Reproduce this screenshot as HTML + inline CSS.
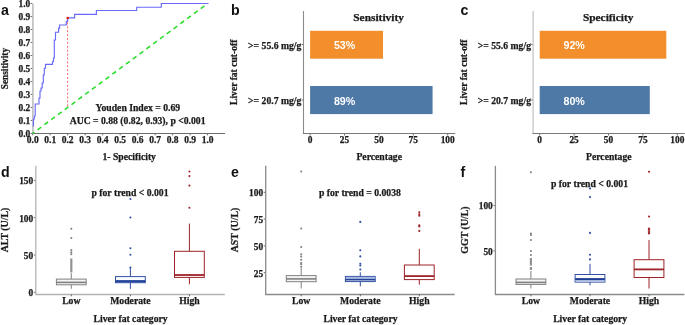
<!DOCTYPE html>
<html><head><meta charset="utf-8"><style>
html,body{margin:0;padding:0;background:#fff;}
svg{display:block;filter:blur(0.3px);}
</style></head><body>
<svg width="685" height="325" viewBox="0 0 685 325">
<rect width="685" height="325" fill="#fff"/>
<text x="1.0" y="14.8" font-size="14.2" text-anchor="start" font-weight="bold" font-family='"Liberation Sans", sans-serif' fill="#111" >a</text>
<line x1="32.9" y1="3.4" x2="32.9" y2="133.5" stroke="#b4b4b4" stroke-width="1.4" />
<line x1="32.2" y1="133.5" x2="225.0" y2="133.5" stroke="#6e6e6e" stroke-width="1.1" />
<line x1="30.6" y1="133.4" x2="32.2" y2="133.4" stroke="#444" stroke-width="0.8" />
<text x="30.2" y="137.0" font-size="9.4" text-anchor="end" font-weight="bold" font-family='"Liberation Serif", serif' fill="#1a1a1a" stroke="#1a1a1a" stroke-width="0.25" >0.0</text>
<line x1="32.7" y1="134" x2="32.7" y2="135.3" stroke="#444" stroke-width="0.8" />
<text x="32.7" y="142.8" font-size="9.5" text-anchor="middle" font-weight="bold" font-family='"Liberation Serif", serif' fill="#1a1a1a" stroke="#1a1a1a" stroke-width="0.25" >0.0</text>
<line x1="30.6" y1="120.41" x2="32.2" y2="120.41" stroke="#444" stroke-width="0.8" />
<text x="30.2" y="124.00999999999999" font-size="9.4" text-anchor="end" font-weight="bold" font-family='"Liberation Serif", serif' fill="#1a1a1a" stroke="#1a1a1a" stroke-width="0.25" >0.1</text>
<line x1="50.190000000000005" y1="134" x2="50.190000000000005" y2="135.3" stroke="#444" stroke-width="0.8" />
<text x="50.190000000000005" y="142.8" font-size="9.5" text-anchor="middle" font-weight="bold" font-family='"Liberation Serif", serif' fill="#1a1a1a" stroke="#1a1a1a" stroke-width="0.25" >0.1</text>
<line x1="30.6" y1="107.42" x2="32.2" y2="107.42" stroke="#444" stroke-width="0.8" />
<text x="30.2" y="111.02" font-size="9.4" text-anchor="end" font-weight="bold" font-family='"Liberation Serif", serif' fill="#1a1a1a" stroke="#1a1a1a" stroke-width="0.25" >0.2</text>
<line x1="67.68" y1="134" x2="67.68" y2="135.3" stroke="#444" stroke-width="0.8" />
<text x="67.68" y="142.8" font-size="9.5" text-anchor="middle" font-weight="bold" font-family='"Liberation Serif", serif' fill="#1a1a1a" stroke="#1a1a1a" stroke-width="0.25" >0.2</text>
<line x1="30.6" y1="94.43" x2="32.2" y2="94.43" stroke="#444" stroke-width="0.8" />
<text x="30.2" y="98.03" font-size="9.4" text-anchor="end" font-weight="bold" font-family='"Liberation Serif", serif' fill="#1a1a1a" stroke="#1a1a1a" stroke-width="0.25" >0.3</text>
<line x1="85.17" y1="134" x2="85.17" y2="135.3" stroke="#444" stroke-width="0.8" />
<text x="85.17" y="142.8" font-size="9.5" text-anchor="middle" font-weight="bold" font-family='"Liberation Serif", serif' fill="#1a1a1a" stroke="#1a1a1a" stroke-width="0.25" >0.3</text>
<line x1="30.6" y1="81.44" x2="32.2" y2="81.44" stroke="#444" stroke-width="0.8" />
<text x="30.2" y="85.03999999999999" font-size="9.4" text-anchor="end" font-weight="bold" font-family='"Liberation Serif", serif' fill="#1a1a1a" stroke="#1a1a1a" stroke-width="0.25" >0.4</text>
<line x1="102.66000000000001" y1="134" x2="102.66000000000001" y2="135.3" stroke="#444" stroke-width="0.8" />
<text x="102.66000000000001" y="142.8" font-size="9.5" text-anchor="middle" font-weight="bold" font-family='"Liberation Serif", serif' fill="#1a1a1a" stroke="#1a1a1a" stroke-width="0.25" >0.4</text>
<line x1="30.6" y1="68.45" x2="32.2" y2="68.45" stroke="#444" stroke-width="0.8" />
<text x="30.2" y="72.05" font-size="9.4" text-anchor="end" font-weight="bold" font-family='"Liberation Serif", serif' fill="#1a1a1a" stroke="#1a1a1a" stroke-width="0.25" >0.5</text>
<line x1="120.15" y1="134" x2="120.15" y2="135.3" stroke="#444" stroke-width="0.8" />
<text x="120.15" y="142.8" font-size="9.5" text-anchor="middle" font-weight="bold" font-family='"Liberation Serif", serif' fill="#1a1a1a" stroke="#1a1a1a" stroke-width="0.25" >0.5</text>
<line x1="30.6" y1="55.46000000000001" x2="32.2" y2="55.46000000000001" stroke="#444" stroke-width="0.8" />
<text x="30.2" y="59.06000000000001" font-size="9.4" text-anchor="end" font-weight="bold" font-family='"Liberation Serif", serif' fill="#1a1a1a" stroke="#1a1a1a" stroke-width="0.25" >0.6</text>
<line x1="137.64" y1="134" x2="137.64" y2="135.3" stroke="#444" stroke-width="0.8" />
<text x="137.64" y="142.8" font-size="9.5" text-anchor="middle" font-weight="bold" font-family='"Liberation Serif", serif' fill="#1a1a1a" stroke="#1a1a1a" stroke-width="0.25" >0.6</text>
<line x1="30.6" y1="42.47000000000001" x2="32.2" y2="42.47000000000001" stroke="#444" stroke-width="0.8" />
<text x="30.2" y="46.070000000000014" font-size="9.4" text-anchor="end" font-weight="bold" font-family='"Liberation Serif", serif' fill="#1a1a1a" stroke="#1a1a1a" stroke-width="0.25" >0.7</text>
<line x1="155.13" y1="134" x2="155.13" y2="135.3" stroke="#444" stroke-width="0.8" />
<text x="155.13" y="142.8" font-size="9.5" text-anchor="middle" font-weight="bold" font-family='"Liberation Serif", serif' fill="#1a1a1a" stroke="#1a1a1a" stroke-width="0.25" >0.7</text>
<line x1="30.6" y1="29.47999999999999" x2="32.2" y2="29.47999999999999" stroke="#444" stroke-width="0.8" />
<text x="30.2" y="33.07999999999999" font-size="9.4" text-anchor="end" font-weight="bold" font-family='"Liberation Serif", serif' fill="#1a1a1a" stroke="#1a1a1a" stroke-width="0.25" >0.8</text>
<line x1="172.62" y1="134" x2="172.62" y2="135.3" stroke="#444" stroke-width="0.8" />
<text x="172.62" y="142.8" font-size="9.5" text-anchor="middle" font-weight="bold" font-family='"Liberation Serif", serif' fill="#1a1a1a" stroke="#1a1a1a" stroke-width="0.25" >0.8</text>
<line x1="30.6" y1="16.489999999999995" x2="32.2" y2="16.489999999999995" stroke="#444" stroke-width="0.8" />
<text x="30.2" y="20.089999999999996" font-size="9.4" text-anchor="end" font-weight="bold" font-family='"Liberation Serif", serif' fill="#1a1a1a" stroke="#1a1a1a" stroke-width="0.25" >0.9</text>
<line x1="190.11" y1="134" x2="190.11" y2="135.3" stroke="#444" stroke-width="0.8" />
<text x="190.11" y="142.8" font-size="9.5" text-anchor="middle" font-weight="bold" font-family='"Liberation Serif", serif' fill="#1a1a1a" stroke="#1a1a1a" stroke-width="0.25" >0.9</text>
<line x1="30.6" y1="3.5" x2="32.2" y2="3.5" stroke="#444" stroke-width="0.8" />
<text x="30.2" y="7.1" font-size="9.4" text-anchor="end" font-weight="bold" font-family='"Liberation Serif", serif' fill="#1a1a1a" stroke="#1a1a1a" stroke-width="0.25" >1.0</text>
<line x1="207.60000000000002" y1="134" x2="207.60000000000002" y2="135.3" stroke="#444" stroke-width="0.8" />
<text x="207.60000000000002" y="142.8" font-size="9.5" text-anchor="middle" font-weight="bold" font-family='"Liberation Serif", serif' fill="#1a1a1a" stroke="#1a1a1a" stroke-width="0.25" >1.0</text>
<line x1="32.7" y1="133.4" x2="207.60000000000002" y2="3.5" stroke="#2edc2e" stroke-width="1.6" stroke-dasharray="4.6 3.87" stroke-dashoffset="2.4"/>
<line x1="67.6" y1="18.5" x2="67.6" y2="107" stroke="#ff6464" stroke-width="1" stroke-dasharray="2 1.9"/>
<path d="M33.5,126.6 V119 H34.3 V116 H35.2 V104 H39 V98 H40 V91 H41 V88 H42.2 V83 H43.3 V75 H44.3 V68.2 H45.5 V64.3 H52.5 V61.7 H53.5 V58 H54.3 V40 H55.5 V32.2 H58.6 V28.1 H59.6 V25 H66.3 V21.4 H67.6 V17.9 H74.6 V14.4 H96.4 V10.5 H136.7 V7.2 H161.3 V3.5 H208.5" fill="none" stroke="#6a6afa" stroke-width="1.15"/>
<rect x="66.6" y="16.9" width="2.2" height="2.2" fill="#ee1111"/>
<text x="137.9" y="111.3" font-size="9.7" text-anchor="middle" font-weight="bold" font-family='"Liberation Serif", serif' fill="#1a1a1a" stroke="#1a1a1a" stroke-width="0.25" >Youden Index = 0.69</text>
<text x="137.6" y="124.4" font-size="9.7" text-anchor="middle" font-weight="bold" font-family='"Liberation Serif", serif' fill="#1a1a1a" stroke="#1a1a1a" stroke-width="0.25" >AUC = 0.88 (0.82, 0.93), p &lt;0.001</text>
<text x="129.2" y="160.4" font-size="9.7" text-anchor="middle" font-weight="bold" font-family='"Liberation Serif", serif' fill="#1a1a1a" stroke="#1a1a1a" stroke-width="0.25" >1- Specificity</text>
<text transform="translate(8.2,68.6) rotate(-90)" font-size="9.3" text-anchor="middle" font-weight="bold" font-family='"Liberation Serif", serif' fill="#1a1a1a" stroke="#1a1a1a" stroke-width="0.25">Sensitivity</text>
<text x="231.0" y="14.9" font-size="14.2" text-anchor="start" font-weight="bold" font-family='"Liberation Sans", sans-serif' fill="#111" >b</text>
<line x1="303.5" y1="11.1" x2="303.5" y2="133.5" stroke="#8a8a8a" stroke-width="1.1" />
<line x1="302.9" y1="133.5" x2="455.2" y2="133.5" stroke="#7a7a7a" stroke-width="1.1" />
<line x1="310.1" y1="134" x2="310.1" y2="135.5" stroke="#444" stroke-width="0.8" />
<text x="310.1" y="142.8" font-size="9.4" text-anchor="middle" font-weight="bold" font-family='"Liberation Serif", serif' fill="#1a1a1a" stroke="#1a1a1a" stroke-width="0.25" >0</text>
<line x1="344.5" y1="134" x2="344.5" y2="135.5" stroke="#444" stroke-width="0.8" />
<text x="344.5" y="142.8" font-size="9.4" text-anchor="middle" font-weight="bold" font-family='"Liberation Serif", serif' fill="#1a1a1a" stroke="#1a1a1a" stroke-width="0.25" >25</text>
<line x1="378.90000000000003" y1="134" x2="378.90000000000003" y2="135.5" stroke="#444" stroke-width="0.8" />
<text x="378.90000000000003" y="142.8" font-size="9.4" text-anchor="middle" font-weight="bold" font-family='"Liberation Serif", serif' fill="#1a1a1a" stroke="#1a1a1a" stroke-width="0.25" >50</text>
<line x1="413.3" y1="134" x2="413.3" y2="135.5" stroke="#444" stroke-width="0.8" />
<text x="413.3" y="142.8" font-size="9.4" text-anchor="middle" font-weight="bold" font-family='"Liberation Serif", serif' fill="#1a1a1a" stroke="#1a1a1a" stroke-width="0.25" >75</text>
<line x1="447.70000000000005" y1="134" x2="447.70000000000005" y2="135.5" stroke="#444" stroke-width="0.8" />
<text x="447.70000000000005" y="142.8" font-size="9.4" text-anchor="middle" font-weight="bold" font-family='"Liberation Serif", serif' fill="#1a1a1a" stroke="#1a1a1a" stroke-width="0.25" >100</text>
<line x1="301.6" y1="44.5" x2="303.0" y2="44.5" stroke="#444" stroke-width="0.8" />
<line x1="301.6" y1="100.0" x2="303.0" y2="100.0" stroke="#444" stroke-width="0.8" />
<rect x="310.1" y="30.8" width="72.928" height="27.9" fill="#f28e2b" />
<rect x="310.1" y="86.0" width="122.46399999999998" height="28.1" fill="#4e79a7" />
<text x="344.6" y="49.0" font-size="10.7" text-anchor="middle" font-weight="bold" font-family='"Liberation Sans", sans-serif' fill="#fff" >53%</text>
<text x="344.6" y="104.6" font-size="10.7" text-anchor="middle" font-weight="bold" font-family='"Liberation Sans", sans-serif' fill="#fff" >89%</text>
<text x="378.6" y="20.8" font-size="11.4" text-anchor="middle" font-weight="bold" font-family='"Liberation Serif", serif' fill="#1a1a1a" stroke="#1a1a1a" stroke-width="0.25" >Sensitivity</text>
<text x="301.4" y="48.9" font-size="9.7" text-anchor="end" font-weight="bold" font-family='"Liberation Serif", serif' fill="#1a1a1a" stroke="#1a1a1a" stroke-width="0.25" >&gt;= 55.6 mg/g</text>
<text x="301.4" y="104.2" font-size="9.7" text-anchor="end" font-weight="bold" font-family='"Liberation Serif", serif' fill="#1a1a1a" stroke="#1a1a1a" stroke-width="0.25" >&gt;= 20.7 mg/g</text>
<text transform="translate(237.2,72.3) rotate(-90)" font-size="9.6" text-anchor="middle" font-weight="bold" font-family='"Liberation Serif", serif' fill="#1a1a1a" stroke="#1a1a1a" stroke-width="0.25">Liver fat cut-off</text>
<text x="379.2" y="160.0" font-size="9.7" text-anchor="middle" font-weight="bold" font-family='"Liberation Serif", serif' fill="#1a1a1a" stroke="#1a1a1a" stroke-width="0.25" >Percentage</text>
<text x="460.6" y="14.9" font-size="14.2" text-anchor="start" font-weight="bold" font-family='"Liberation Sans", sans-serif' fill="#111" >c</text>
<line x1="533.1" y1="11.1" x2="533.1" y2="133.5" stroke="#bbbbbb" stroke-width="1.1" />
<line x1="532.5" y1="133.5" x2="684.8" y2="133.5" stroke="#7a7a7a" stroke-width="1.1" />
<line x1="539.7" y1="134" x2="539.7" y2="135.5" stroke="#444" stroke-width="0.8" />
<text x="539.7" y="142.8" font-size="9.4" text-anchor="middle" font-weight="bold" font-family='"Liberation Serif", serif' fill="#1a1a1a" stroke="#1a1a1a" stroke-width="0.25" >0</text>
<line x1="574.1" y1="134" x2="574.1" y2="135.5" stroke="#444" stroke-width="0.8" />
<text x="574.1" y="142.8" font-size="9.4" text-anchor="middle" font-weight="bold" font-family='"Liberation Serif", serif' fill="#1a1a1a" stroke="#1a1a1a" stroke-width="0.25" >25</text>
<line x1="608.5" y1="134" x2="608.5" y2="135.5" stroke="#444" stroke-width="0.8" />
<text x="608.5" y="142.8" font-size="9.4" text-anchor="middle" font-weight="bold" font-family='"Liberation Serif", serif' fill="#1a1a1a" stroke="#1a1a1a" stroke-width="0.25" >50</text>
<line x1="642.9000000000001" y1="134" x2="642.9000000000001" y2="135.5" stroke="#444" stroke-width="0.8" />
<text x="642.9000000000001" y="142.8" font-size="9.4" text-anchor="middle" font-weight="bold" font-family='"Liberation Serif", serif' fill="#1a1a1a" stroke="#1a1a1a" stroke-width="0.25" >75</text>
<line x1="677.3000000000001" y1="134" x2="677.3000000000001" y2="135.5" stroke="#444" stroke-width="0.8" />
<text x="677.3000000000001" y="142.8" font-size="9.4" text-anchor="middle" font-weight="bold" font-family='"Liberation Serif", serif' fill="#1a1a1a" stroke="#1a1a1a" stroke-width="0.25" >100</text>
<line x1="531.2" y1="44.5" x2="532.6" y2="44.5" stroke="#444" stroke-width="0.8" />
<line x1="531.2" y1="100.0" x2="532.6" y2="100.0" stroke="#444" stroke-width="0.8" />
<rect x="539.7" y="30.8" width="126.59199999999998" height="27.9" fill="#f28e2b" />
<rect x="539.7" y="86.0" width="110.07999999999998" height="28.1" fill="#4e79a7" />
<text x="574.2" y="49.0" font-size="10.7" text-anchor="middle" font-weight="bold" font-family='"Liberation Sans", sans-serif' fill="#fff" >92%</text>
<text x="574.2" y="104.6" font-size="10.7" text-anchor="middle" font-weight="bold" font-family='"Liberation Sans", sans-serif' fill="#fff" >80%</text>
<text x="608.2" y="20.8" font-size="11.4" text-anchor="middle" font-weight="bold" font-family='"Liberation Serif", serif' fill="#1a1a1a" stroke="#1a1a1a" stroke-width="0.25" >Specificity</text>
<text x="531.0" y="48.9" font-size="9.7" text-anchor="end" font-weight="bold" font-family='"Liberation Serif", serif' fill="#1a1a1a" stroke="#1a1a1a" stroke-width="0.25" >&gt;= 55.6 mg/g</text>
<text x="531.0" y="104.2" font-size="9.7" text-anchor="end" font-weight="bold" font-family='"Liberation Serif", serif' fill="#1a1a1a" stroke="#1a1a1a" stroke-width="0.25" >&gt;= 20.7 mg/g</text>
<text transform="translate(466.79999999999995,72.3) rotate(-90)" font-size="9.6" text-anchor="middle" font-weight="bold" font-family='"Liberation Serif", serif' fill="#1a1a1a" stroke="#1a1a1a" stroke-width="0.25">Liver fat cut-off</text>
<text x="608.8" y="160.0" font-size="9.7" text-anchor="middle" font-weight="bold" font-family='"Liberation Serif", serif' fill="#1a1a1a" stroke="#1a1a1a" stroke-width="0.25" >Percentage</text>
<text x="1.0" y="177.0" font-size="14.2" text-anchor="start" font-weight="bold" font-family='"Liberation Sans", sans-serif' fill="#111" >d</text>
<line x1="35.8" y1="165.8" x2="35.8" y2="294.5" stroke="#b4b4b4" stroke-width="1.3" />
<line x1="35.3" y1="294.5" x2="224.8" y2="294.5" stroke="#b4b4b4" stroke-width="1.3" />
<line x1="33.8" y1="292.3" x2="35.2" y2="292.3" stroke="#444" stroke-width="0.8" />
<text x="33.2" y="296.2" font-size="9.4" text-anchor="end" font-weight="bold" font-family='"Liberation Serif", serif' fill="#1a1a1a" stroke="#1a1a1a" stroke-width="0.25" >0</text>
<line x1="33.8" y1="255.0" x2="35.2" y2="255.0" stroke="#444" stroke-width="0.8" />
<text x="33.2" y="258.9" font-size="9.4" text-anchor="end" font-weight="bold" font-family='"Liberation Serif", serif' fill="#1a1a1a" stroke="#1a1a1a" stroke-width="0.25" >50</text>
<line x1="33.8" y1="217.70000000000002" x2="35.2" y2="217.70000000000002" stroke="#444" stroke-width="0.8" />
<text x="33.2" y="221.60000000000002" font-size="9.4" text-anchor="end" font-weight="bold" font-family='"Liberation Serif", serif' fill="#1a1a1a" stroke="#1a1a1a" stroke-width="0.25" >100</text>
<line x1="33.8" y1="180.4" x2="35.2" y2="180.4" stroke="#444" stroke-width="0.8" />
<text x="33.2" y="184.3" font-size="9.4" text-anchor="end" font-weight="bold" font-family='"Liberation Serif", serif' fill="#1a1a1a" stroke="#1a1a1a" stroke-width="0.25" >150</text>
<line x1="71.3" y1="294.5" x2="71.3" y2="296.3" stroke="#444" stroke-width="0.8" />
<text x="71.3" y="303.9" font-size="9.7" text-anchor="middle" font-weight="bold" font-family='"Liberation Serif", serif' fill="#1a1a1a" stroke="#1a1a1a" stroke-width="0.25" >Low</text>
<line x1="130.4" y1="294.5" x2="130.4" y2="296.3" stroke="#444" stroke-width="0.8" />
<text x="130.4" y="303.9" font-size="9.7" text-anchor="middle" font-weight="bold" font-family='"Liberation Serif", serif' fill="#1a1a1a" stroke="#1a1a1a" stroke-width="0.25" >Moderate</text>
<line x1="189.4" y1="294.5" x2="189.4" y2="296.3" stroke="#444" stroke-width="0.8" />
<text x="189.4" y="303.9" font-size="9.7" text-anchor="middle" font-weight="bold" font-family='"Liberation Serif", serif' fill="#1a1a1a" stroke="#1a1a1a" stroke-width="0.25" >High</text>
<text x="130.6" y="322.0" font-size="9.7" text-anchor="middle" font-weight="bold" font-family='"Liberation Serif", serif' fill="#1a1a1a" stroke="#1a1a1a" stroke-width="0.25" >Liver fat category</text>
<text x="130.0" y="195.5" font-size="9.7" text-anchor="middle" font-weight="bold" font-family='"Liberation Serif", serif' fill="#1a1a1a" stroke="#1a1a1a" stroke-width="0.25" >p for trend &lt; 0.001</text>
<text transform="translate(8.4,230.0) rotate(-90)" font-size="9.9" text-anchor="middle" font-weight="bold" font-family='"Liberation Serif", serif' fill="#1a1a1a" stroke="#1a1a1a" stroke-width="0.25">ALT (U/L)</text>
<line x1="71.3" y1="273.2" x2="71.3" y2="279.1" stroke="#808080" stroke-width="1" />
<line x1="71.3" y1="284.8" x2="71.3" y2="288.8" stroke="#808080" stroke-width="1" />
<rect x="56.4" y="279.1" width="29.8" height="5.699999999999989" fill="#f4f4f4" stroke="#808080" stroke-width="1"/>
<line x1="56.4" y1="282.4" x2="86.2" y2="282.4" stroke="#808080" stroke-width="1.6" />
<circle cx="71.3" cy="228.7" r="1.05" fill="#808080"/>
<circle cx="71.3" cy="238.0" r="1.05" fill="#808080"/>
<circle cx="71.3" cy="250.0" r="1.05" fill="#808080"/>
<circle cx="71.3" cy="252.4" r="1.05" fill="#808080"/>
<circle cx="71.3" cy="254.3" r="1.05" fill="#808080"/>
<rect x="70.2" y="258.5" width="2.2" height="14.0" fill="#808080" opacity="0.85"/>
<line x1="130.4" y1="267.9" x2="130.4" y2="276.6" stroke="#2f4fa3" stroke-width="1" />
<line x1="130.4" y1="282.7" x2="130.4" y2="288.9" stroke="#2f4fa3" stroke-width="1" />
<rect x="115.5" y="276.6" width="29.8" height="6.099999999999966" fill="#fff" stroke="#2f4fa3" stroke-width="1"/>
<line x1="115.5" y1="281.2" x2="145.3" y2="281.2" stroke="#24449a" stroke-width="2.2" />
<circle cx="130.4" cy="199.0" r="1.05" fill="#2f4fa3"/>
<circle cx="130.4" cy="217.5" r="1.05" fill="#2f4fa3"/>
<circle cx="130.4" cy="248.3" r="1.05" fill="#2f4fa3"/>
<circle cx="130.4" cy="254.7" r="1.05" fill="#2f4fa3"/>
<circle cx="130.4" cy="267.6" r="1.05" fill="#2f4fa3"/>
<line x1="189.4" y1="223.6" x2="189.4" y2="251.3" stroke="#9e2227" stroke-width="1" />
<line x1="189.4" y1="277.4" x2="189.4" y2="284.3" stroke="#9e2227" stroke-width="1" />
<rect x="174.5" y="251.3" width="29.8" height="26.099999999999966" fill="#fff" stroke="#9e2227" stroke-width="1"/>
<line x1="174.5" y1="275.0" x2="204.3" y2="275.0" stroke="#9e2227" stroke-width="1.8" />
<circle cx="189.4" cy="171.5" r="1.05" fill="#9e2227"/>
<circle cx="189.4" cy="176.1" r="1.05" fill="#9e2227"/>
<circle cx="189.4" cy="185.6" r="1.05" fill="#9e2227"/>
<circle cx="189.4" cy="207.8" r="1.05" fill="#9e2227"/>
<text x="230.9" y="177.0" font-size="14.2" text-anchor="start" font-weight="bold" font-family='"Liberation Sans", sans-serif' fill="#111" >e</text>
<line x1="265.7" y1="165.8" x2="265.7" y2="294.5" stroke="#8a8a8a" stroke-width="1.3" />
<line x1="265.2" y1="294.5" x2="454.70000000000005" y2="294.5" stroke="#8a8a8a" stroke-width="1.3" />
<line x1="263.7" y1="272.7" x2="265.1" y2="272.7" stroke="#444" stroke-width="0.8" />
<text x="263.1" y="276.59999999999997" font-size="9.4" text-anchor="end" font-weight="bold" font-family='"Liberation Serif", serif' fill="#1a1a1a" stroke="#1a1a1a" stroke-width="0.25" >25</text>
<line x1="263.7" y1="245.9" x2="265.1" y2="245.9" stroke="#444" stroke-width="0.8" />
<text x="263.1" y="249.8" font-size="9.4" text-anchor="end" font-weight="bold" font-family='"Liberation Serif", serif' fill="#1a1a1a" stroke="#1a1a1a" stroke-width="0.25" >50</text>
<line x1="263.7" y1="219.1" x2="265.1" y2="219.1" stroke="#444" stroke-width="0.8" />
<text x="263.1" y="223.0" font-size="9.4" text-anchor="end" font-weight="bold" font-family='"Liberation Serif", serif' fill="#1a1a1a" stroke="#1a1a1a" stroke-width="0.25" >75</text>
<line x1="263.7" y1="192.3" x2="265.1" y2="192.3" stroke="#444" stroke-width="0.8" />
<text x="263.1" y="196.20000000000002" font-size="9.4" text-anchor="end" font-weight="bold" font-family='"Liberation Serif", serif' fill="#1a1a1a" stroke="#1a1a1a" stroke-width="0.25" >100</text>
<line x1="301.2" y1="294.5" x2="301.2" y2="296.3" stroke="#444" stroke-width="0.8" />
<text x="301.2" y="303.9" font-size="9.7" text-anchor="middle" font-weight="bold" font-family='"Liberation Serif", serif' fill="#1a1a1a" stroke="#1a1a1a" stroke-width="0.25" >Low</text>
<line x1="360.3" y1="294.5" x2="360.3" y2="296.3" stroke="#444" stroke-width="0.8" />
<text x="360.3" y="303.9" font-size="9.7" text-anchor="middle" font-weight="bold" font-family='"Liberation Serif", serif' fill="#1a1a1a" stroke="#1a1a1a" stroke-width="0.25" >Moderate</text>
<line x1="419.3" y1="294.5" x2="419.3" y2="296.3" stroke="#444" stroke-width="0.8" />
<text x="419.3" y="303.9" font-size="9.7" text-anchor="middle" font-weight="bold" font-family='"Liberation Serif", serif' fill="#1a1a1a" stroke="#1a1a1a" stroke-width="0.25" >High</text>
<text x="360.5" y="322.0" font-size="9.7" text-anchor="middle" font-weight="bold" font-family='"Liberation Serif", serif' fill="#1a1a1a" stroke="#1a1a1a" stroke-width="0.25" >Liver fat category</text>
<text x="359.9" y="195.70000000000002" font-size="9.7" text-anchor="middle" font-weight="bold" font-family='"Liberation Serif", serif' fill="#1a1a1a" stroke="#1a1a1a" stroke-width="0.25" >p for trend = 0.0038</text>
<text transform="translate(238.3,230.0) rotate(-90)" font-size="9.9" text-anchor="middle" font-weight="bold" font-family='"Liberation Serif", serif' fill="#1a1a1a" stroke="#1a1a1a" stroke-width="0.25">AST (U/L)</text>
<line x1="301.2" y1="267.8" x2="301.2" y2="275.6" stroke="#808080" stroke-width="1" />
<line x1="301.2" y1="281.7" x2="301.2" y2="288.5" stroke="#808080" stroke-width="1" />
<rect x="286.3" y="275.6" width="29.8" height="6.099999999999966" fill="#f4f4f4" stroke="#808080" stroke-width="1"/>
<line x1="286.3" y1="278.9" x2="316.09999999999997" y2="278.9" stroke="#808080" stroke-width="1.6" />
<circle cx="301.2" cy="171.5" r="1.05" fill="#808080"/>
<circle cx="301.2" cy="228.5" r="1.05" fill="#808080"/>
<circle cx="301.2" cy="247.0" r="1.05" fill="#808080"/>
<circle cx="301.2" cy="254.3" r="1.05" fill="#808080"/>
<circle cx="301.2" cy="256.6" r="1.05" fill="#808080"/>
<circle cx="301.2" cy="259.7" r="1.05" fill="#808080"/>
<circle cx="301.2" cy="263.0" r="1.05" fill="#808080"/>
<circle cx="301.2" cy="264.3" r="1.05" fill="#808080"/>
<circle cx="301.2" cy="266.7" r="1.05" fill="#808080"/>
<line x1="360.3" y1="272.3" x2="360.3" y2="276.4" stroke="#2f4fa3" stroke-width="1" />
<line x1="360.3" y1="281.6" x2="360.3" y2="286.4" stroke="#2f4fa3" stroke-width="1" />
<rect x="345.40000000000003" y="276.4" width="29.8" height="5.2000000000000455" fill="#fff" stroke="#2f4fa3" stroke-width="1"/>
<rect x="345.90000000000003" y="276.9" width="28.8" height="2.8000000000000114" fill="#a9b8e0" />
<line x1="345.40000000000003" y1="279.7" x2="375.2" y2="279.7" stroke="#24449a" stroke-width="1.6" />
<circle cx="360.3" cy="221.9" r="1.05" fill="#2f4fa3"/>
<circle cx="360.3" cy="250.2" r="1.05" fill="#2f4fa3"/>
<circle cx="360.3" cy="256.4" r="1.05" fill="#2f4fa3"/>
<circle cx="360.3" cy="263.8" r="1.05" fill="#2f4fa3"/>
<circle cx="360.3" cy="265.5" r="1.05" fill="#2f4fa3"/>
<circle cx="360.3" cy="269.5" r="1.05" fill="#2f4fa3"/>
<line x1="419.3" y1="248.8" x2="419.3" y2="265.0" stroke="#9e2227" stroke-width="1" />
<line x1="419.3" y1="279.6" x2="419.3" y2="284.7" stroke="#9e2227" stroke-width="1" />
<rect x="404.40000000000003" y="265.0" width="29.8" height="14.600000000000023" fill="#fff" stroke="#9e2227" stroke-width="1"/>
<line x1="404.40000000000003" y1="276.1" x2="434.2" y2="276.1" stroke="#9e2227" stroke-width="1.8" />
<circle cx="419.3" cy="212.2" r="1.05" fill="#9e2227"/>
<circle cx="419.3" cy="214.3" r="1.05" fill="#9e2227"/>
<circle cx="419.3" cy="215.8" r="1.05" fill="#9e2227"/>
<circle cx="419.3" cy="225.4" r="1.05" fill="#9e2227"/>
<circle cx="419.3" cy="226.4" r="1.05" fill="#9e2227"/>
<circle cx="419.3" cy="230.9" r="1.05" fill="#9e2227"/>
<text x="460.6" y="177.0" font-size="14.2" text-anchor="start" font-weight="bold" font-family='"Liberation Sans", sans-serif' fill="#111" >f</text>
<line x1="495.40000000000003" y1="165.8" x2="495.40000000000003" y2="294.5" stroke="#8a8a8a" stroke-width="1.3" />
<line x1="494.90000000000003" y1="294.5" x2="684.4000000000001" y2="294.5" stroke="#8a8a8a" stroke-width="1.3" />
<line x1="493.40000000000003" y1="250.8" x2="494.8" y2="250.8" stroke="#444" stroke-width="0.8" />
<text x="492.8" y="254.70000000000002" font-size="9.4" text-anchor="end" font-weight="bold" font-family='"Liberation Serif", serif' fill="#1a1a1a" stroke="#1a1a1a" stroke-width="0.25" >50</text>
<line x1="493.40000000000003" y1="205.5" x2="494.8" y2="205.5" stroke="#444" stroke-width="0.8" />
<text x="492.8" y="209.4" font-size="9.4" text-anchor="end" font-weight="bold" font-family='"Liberation Serif", serif' fill="#1a1a1a" stroke="#1a1a1a" stroke-width="0.25" >100</text>
<line x1="530.9" y1="294.5" x2="530.9" y2="296.3" stroke="#444" stroke-width="0.8" />
<text x="530.9" y="303.9" font-size="9.7" text-anchor="middle" font-weight="bold" font-family='"Liberation Serif", serif' fill="#1a1a1a" stroke="#1a1a1a" stroke-width="0.25" >Low</text>
<line x1="590.0" y1="294.5" x2="590.0" y2="296.3" stroke="#444" stroke-width="0.8" />
<text x="590.0" y="303.9" font-size="9.7" text-anchor="middle" font-weight="bold" font-family='"Liberation Serif", serif' fill="#1a1a1a" stroke="#1a1a1a" stroke-width="0.25" >Moderate</text>
<line x1="649.0" y1="294.5" x2="649.0" y2="296.3" stroke="#444" stroke-width="0.8" />
<text x="649.0" y="303.9" font-size="9.7" text-anchor="middle" font-weight="bold" font-family='"Liberation Serif", serif' fill="#1a1a1a" stroke="#1a1a1a" stroke-width="0.25" >High</text>
<text x="590.2" y="322.0" font-size="9.7" text-anchor="middle" font-weight="bold" font-family='"Liberation Serif", serif' fill="#1a1a1a" stroke="#1a1a1a" stroke-width="0.25" >Liver fat category</text>
<text x="589.5" y="187.20000000000002" font-size="9.7" text-anchor="middle" font-weight="bold" font-family='"Liberation Serif", serif' fill="#1a1a1a" stroke="#1a1a1a" stroke-width="0.25" >p for trend &lt; 0.001</text>
<text transform="translate(468.0,230.0) rotate(-90)" font-size="9.9" text-anchor="middle" font-weight="bold" font-family='"Liberation Serif", serif' fill="#1a1a1a" stroke="#1a1a1a" stroke-width="0.25">GGT (U/L)</text>
<line x1="530.9" y1="271.0" x2="530.9" y2="279.0" stroke="#808080" stroke-width="1" />
<line x1="530.9" y1="284.4" x2="530.9" y2="288.4" stroke="#808080" stroke-width="1" />
<rect x="516.0" y="279.0" width="29.8" height="5.399999999999977" fill="#f4f4f4" stroke="#808080" stroke-width="1"/>
<line x1="516.0" y1="282.4" x2="545.8" y2="282.4" stroke="#808080" stroke-width="1.6" />
<circle cx="530.9" cy="172.3" r="1.05" fill="#808080"/>
<circle cx="530.9" cy="233.6" r="1.05" fill="#808080"/>
<circle cx="530.9" cy="235.0" r="1.05" fill="#808080"/>
<circle cx="530.9" cy="240.0" r="1.05" fill="#808080"/>
<circle cx="530.9" cy="251.0" r="1.05" fill="#808080"/>
<circle cx="530.9" cy="255.0" r="1.05" fill="#808080"/>
<rect x="529.8" y="258.0" width="2.2" height="7.5" fill="#808080" opacity="0.85"/>
<rect x="529.8" y="267.0" width="2.2" height="3.0" fill="#808080" opacity="0.85"/>
<line x1="590.0" y1="263.8" x2="590.0" y2="274.5" stroke="#2f4fa3" stroke-width="1" />
<line x1="590.0" y1="282.1" x2="590.0" y2="285.3" stroke="#2f4fa3" stroke-width="1" />
<rect x="575.1" y="274.5" width="29.8" height="7.600000000000023" fill="#fff" stroke="#2f4fa3" stroke-width="1"/>
<rect x="575.6" y="279.1" width="28.8" height="2.5" fill="#b8c4e6" />
<line x1="575.1" y1="279.1" x2="604.9" y2="279.1" stroke="#1f3f96" stroke-width="2.0" />
<circle cx="590.0" cy="188.5" r="1.05" fill="#2f4fa3"/>
<circle cx="590.0" cy="197.1" r="1.05" fill="#2f4fa3"/>
<circle cx="590.0" cy="232.9" r="1.05" fill="#2f4fa3"/>
<circle cx="590.0" cy="254.8" r="1.05" fill="#2f4fa3"/>
<circle cx="590.0" cy="259.4" r="1.05" fill="#2f4fa3"/>
<line x1="649.0" y1="240.1" x2="649.0" y2="259.7" stroke="#9e2227" stroke-width="1" />
<line x1="649.0" y1="277.5" x2="649.0" y2="288.5" stroke="#9e2227" stroke-width="1" />
<rect x="634.1" y="259.7" width="29.8" height="17.80000000000001" fill="#fff" stroke="#9e2227" stroke-width="1"/>
<line x1="634.1" y1="269.4" x2="663.9" y2="269.4" stroke="#9e2227" stroke-width="1.8" />
<circle cx="649.0" cy="171.7" r="1.05" fill="#9e2227"/>
<circle cx="649.0" cy="216.5" r="1.05" fill="#9e2227"/>
<circle cx="649.0" cy="228.6" r="1.05" fill="#9e2227"/>
<circle cx="649.0" cy="233.4" r="1.05" fill="#9e2227"/>
<rect x="647.9" y="228.6" width="2.2" height="4.800000000000011" fill="#9e2227" opacity="0.85"/>
</svg>
</body></html>
